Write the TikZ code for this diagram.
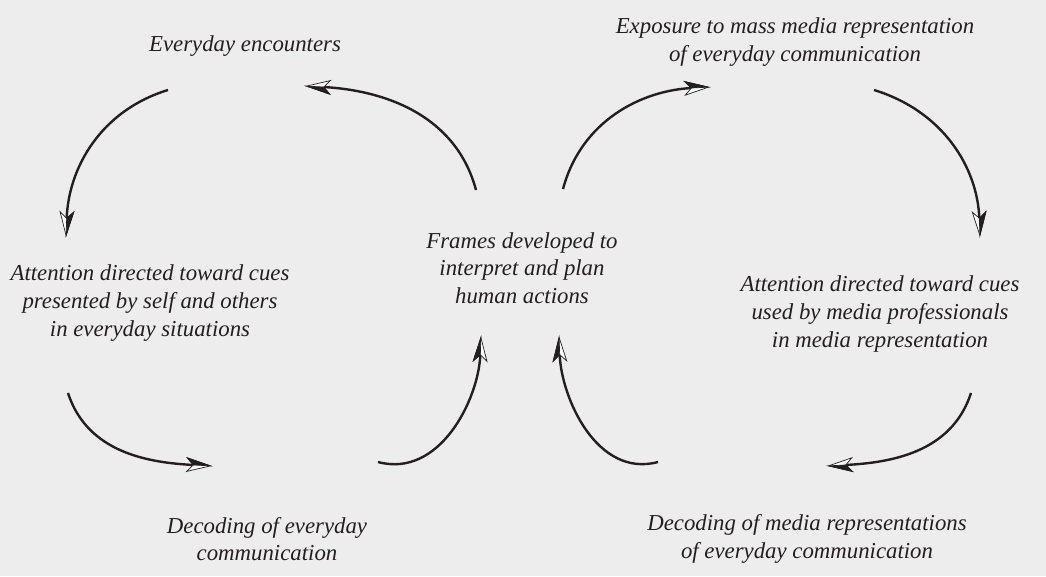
\documentclass[tikz,border=0pt]{standalone}
\usepackage{fontspec}
\setmainfont{Liberation Serif}
\usetikzlibrary{arrows.meta}
\definecolor{bg}{HTML}{EDEDED}
\definecolor{ink}{HTML}{231F20}
\begin{document}
\begin{tikzpicture}[x=1pt,y=-1pt,
  lbl/.style={font=\fontsize{22.8}{27.6}\selectfont\itshape, align=center, inner sep=0pt, text=ink},
  cyc/.style={draw=ink, line width=2.4pt,
    -{Stealth[open,length=26pt,width=15pt,inset=7pt,sep=-26pt,fill=white,line width=0.7pt]Stealth[harpoon,length=26pt,width=15pt,inset=7pt,fill=ink,line width=0.7pt]}}]
\fill[bg] (0,0) rectangle (1046,576);
\useasboundingbox (0,0) rectangle (1046,576);

\node[lbl] (ev) at (245,46) {Everyday encounters};
\node[lbl] (ex) at (795,42) {Exposure to mass media representation\\of everyday communication};
\node[lbl] (fr) at (522,268) {Frames developed to\\interpret and plan\\human actions};
\node[lbl] (al) at (150,303) {Attention directed toward cues\\presented by self and others\\in everyday situations};
\node[lbl] (ar) at (880,314) {Attention directed toward cues\\used by media professionals\\in media representation};
\node[lbl] (dl) at (267,539) {Decoding of everyday\\communication};
\node[lbl] (dr) at (807,539) {Decoding of media representations\\of everyday communication};

\coordinate (a1s) at (168,90);  \coordinate (a1e) at (66,238);
\coordinate (a2s) at (476,190); \coordinate (a2e) at (304,86);
\coordinate (a3s) at (563,189); \coordinate (a3e) at (711,87);
\coordinate (a4s) at (874,90);  \coordinate (a4e) at (980,238);
\coordinate (a5s) at (971,393); \coordinate (a5e) at (826,466);
\coordinate (a6s) at (658,462); \coordinate (a6e) at (559,335);
\coordinate (a7s) at (378,462); \coordinate (a7e) at (481,335);
\coordinate (a8s) at (68,393);  \coordinate (a8e) at (213,466);

\draw[cyc] (a1s) to[out=197,in=88] (a1e);
\draw[cyc] (a2s) to[out=105,in=-3] (a2e);
\draw[cyc] (a3s) to[out=75,in=183] (a3e);
\draw[cyc] (a4s) to[out=-17,in=92] (a4e);
\draw[cyc] (a5s) to[out=-108,in=3] (a5e);
\draw[cyc] (a6s) to[out=195,in=-88] (a6e);
\draw[cyc] (a7s) to[out=-15,in=-92] (a7e);
\draw[cyc] (a8s) to[out=-72,in=177] (a8e);
\end{tikzpicture}
\end{document}
